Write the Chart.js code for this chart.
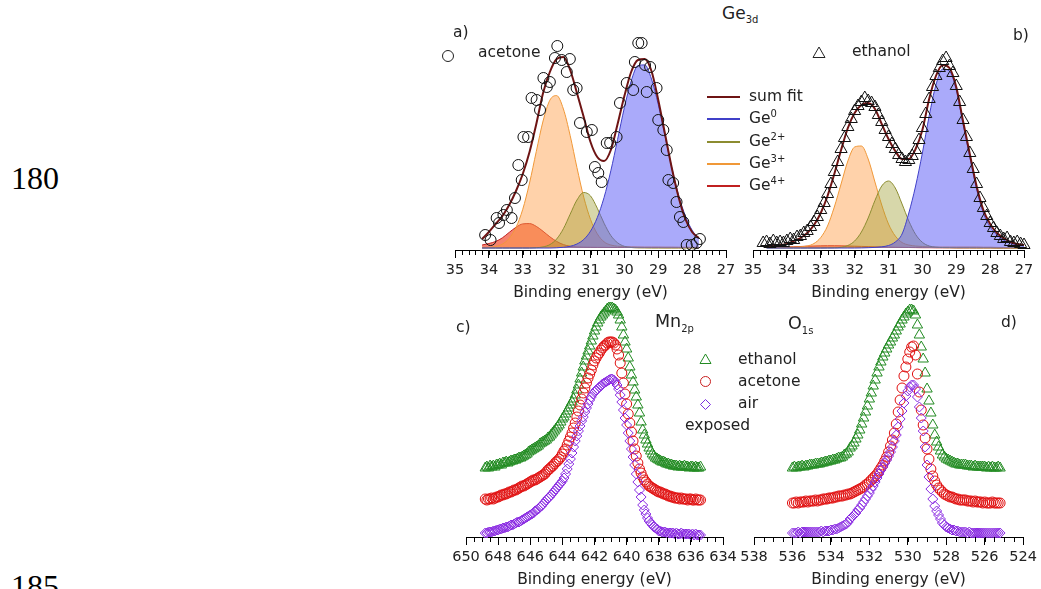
<!DOCTYPE html>
<html>
<head>
<meta charset="utf-8">
<script src="https://cdn.jsdelivr.net/npm/chart.js@4.4.0/dist/chart.umd.min.js"></script>
<style>
html, body { margin: 0; padding: 0; overflow: hidden; background: #fff; }
body { position: relative; width: 1041px; height: 589px; font-family: "DejaVu Sans", sans-serif; color: #222; }
canvas { position: absolute; }
.t { position: absolute; font-size: 15.5px; line-height: 15px; white-space: nowrap; }
.t sup, .t sub { font-size: 10px; line-height: 0; }
.big { position: absolute; font-family: "Liberation Serif", serif; font-size: 32px; line-height: 32px; color: #000; }
.lg { position: absolute; left: 707px; width: 33px; }
</style>
</head>
<body>
<canvas id="geA" width="311" height="280" style="left:435px;top:30px"></canvas>
<canvas id="geB" width="305" height="280" style="left:733px;top:30px"></canvas>
<canvas id="mnC" width="297" height="307" style="left:446px;top:290px"></canvas>
<canvas id="oD" width="307" height="307" style="left:734px;top:290px"></canvas>

<div class="big" style="left:11px;top:162px">180</div>
<div class="big" style="left:11px;top:570px">185</div>

<div class="t" style="left:722px;top:6px;font-size:17px">Ge<sub>3d</sub></div>
<div class="t" style="left:453px;top:25px">a)</div>
<div class="t" style="left:1013px;top:28px">b)</div>
<div style="position:absolute;left:442px;top:50px;width:10px;height:10px;border:1px solid #222;border-radius:50%"></div>
<div class="t" style="left:478px;top:45px">acetone</div>
<svg style="position:absolute;left:812px;top:46px" width="14" height="13"><polygon points="7,1 13,11.5 1,11.5" fill="none" stroke="#222" stroke-width="1"/></svg>
<div class="t" style="left:852px;top:44px">ethanol</div>

<div class="lg" style="top:96px;height:2px;background:#6e1414"></div>
<div class="lg" style="top:118px;height:1.5px;background:#4040c8"></div>
<div class="lg" style="top:141px;height:1.5px;background:#8c8c30"></div>
<div class="lg" style="top:163px;height:1.5px;background:#f09838"></div>
<div class="lg" style="top:185px;height:1.5px;background:#c02020"></div>
<div class="t" style="left:749px;top:89px">sum fit</div>
<div class="t" style="left:749px;top:111px">Ge<sup>0</sup></div>
<div class="t" style="left:749px;top:134px">Ge<sup>2+</sup></div>
<div class="t" style="left:749px;top:156px">Ge<sup>3+</sup></div>
<div class="t" style="left:749px;top:178px">Ge<sup>4+</sup></div>

<div class="t" style="left:456px;top:320px">c)</div>
<div class="t" style="left:655px;top:314px;font-size:17.5px">Mn<sub>2p</sub></div>
<div class="t" style="left:788px;top:316px;font-size:17.5px">O<sub>1s</sub></div>
<div class="t" style="left:1001px;top:315px">d)</div>
<svg style="position:absolute;left:699px;top:353px" width="13" height="12"><polygon points="6.5,1 12,10.5 1,10.5" fill="none" stroke="#228b22" stroke-width="1"/></svg>
<div style="position:absolute;left:700px;top:376px;width:9px;height:9px;border:1px solid #c81e1e;border-radius:50%"></div>
<svg style="position:absolute;left:699px;top:398px" width="13" height="13"><polygon points="6.5,1.5 11.5,6.5 6.5,11.5 1.5,6.5" fill="none" stroke="#7b2be0" stroke-width="1"/></svg>
<div class="t" style="left:738px;top:352px">ethanol</div>
<div class="t" style="left:738px;top:374px">acetone</div>
<div class="t" style="left:738px;top:396px">air</div>
<div class="t" style="left:685px;top:418px">exposed</div>

<script>
// Ge 3d, panel a (acetone)
const geEnergyA = [34.2, 34.0, 33.8, 33.6, 33.4, 33.2, 33.0, 32.8, 32.6, 32.4, 32.2, 32.0, 31.8, 31.6, 31.4, 31.2, 31.0,
    30.8, 30.6, 30.4, 30.2, 30.0, 29.8, 29.6, 29.4, 29.2, 29.0, 28.8, 28.6, 28.4, 28.2, 28.0, 27.8];
const geSumA = [9, 16, 24, 32, 43, 57, 74, 96, 124, 155, 176, 189, 191, 178, 155, 131, 106,
    91, 87, 98, 124, 152, 176, 188, 189, 177, 148, 114, 80, 51, 29, 16, 10];
const ge0A = [0, 0, 0, 0, 0, 0, 0, 0, 0, 0, 0, 0.2, 0.7, 1.7, 4, 8.5, 16.8,
    30.4, 50.5, 77.2, 108.6, 140.4, 166.9, 182.4, 183.1, 169, 143.5, 111.9, 80.2, 52.9, 32.1, 17.8, 9.1];
const ge2A = [0, 0, 0, 0, 0, 0, 0, 0, 0.3, 1.1, 3.4, 9, 19.3, 33.8, 48, 55.5, 52.1,
    39.8, 24.8, 12.5, 5.2, 1.7, 0.5, 0.2, 0.1, 0, 0, 0, 0, 0, 0, 0, 0];
const ge3A = [0.3, 0.5, 1.5, 3.9, 9.6, 20.5, 38.7, 65, 96.6, 127, 147.8, 152.4, 139, 112.4, 80.4, 50.9, 28.6,
    14.2, 6.2, 3, 1.8, 1.4, 1.2, 1.1, 1, 1, 1, 0.9, 0.9, 0.8, 0.8, 0.7, 0.7];
const ge4A = [3, 4.5, 6.5, 10.2, 15.6, 20.7, 24.1, 24.4, 21.6, 16.7, 11.2, 6.6, 3.4, 1.8, 1, 0.8, 0.7,
    0.6, 0.6, 0.5, 0.5, 0.5, 0.5, 0.4, 0.4, 0.4, 0.4, 0.3, 0.3, 0.3, 0.3, 0.3, 0.3];
const acetoneGeE = [34.11, 33.95, 33.77, 33.70, 33.57, 33.47, 33.33, 33.23, 33.13, 33.03, 32.98, 32.84, 32.74, 32.59,
    32.49, 32.39, 32.29, 32.20, 32.05, 31.98, 31.85, 31.70, 31.61, 31.51, 31.41, 31.31, 31.11, 30.96, 30.87, 30.77,
    30.67, 30.52, 30.42, 30.23, 30.13, 29.93, 29.74, 29.69, 29.59, 29.49, 29.39, 29.34, 29.24, 29.05, 29.00, 28.85,
    28.75, 28.70, 28.56, 28.46, 28.36, 28.26, 28.16, 28.01, 27.87, 27.77];
const acetoneGeI = [13, 8, 30, 25, 33, 38, 30, 50, 83, 68, 111, 111, 150, 148,
    138, 170, 161, 166, 190, 202, 188, 176, 189, 158, 160, 125, 116, 118, 81, 75,
    66, 105, 105, 111, 145, 165, 158, 186, 205, 205, 183, 156, 181, 160, 128, 118,
    98, 68, 65, 46, 31, 26, 3, 3, 5, 9];

// Ge 3d, panel b (ethanol)
const geEnergyB = [34.6, 34.4, 34.2, 34.0, 33.8, 33.6, 33.4, 33.2, 33.0, 32.8, 32.6, 32.4, 32.2, 32.0, 31.8, 31.6, 31.4,
    31.2, 31.0, 30.8, 30.6, 30.4, 30.2, 30.0, 29.8, 29.6, 29.4, 29.2, 29.0, 28.8, 28.6, 28.4, 28.2, 28.0, 27.8,
    27.6, 27.4, 27.2, 27.0];
const geSumB = [1, 2, 3, 4, 7, 10, 15, 23, 35, 52, 74, 98, 120, 135, 143, 145, 139,
    124, 109, 97, 89, 89, 99, 118, 149, 172, 183, 180, 161, 127, 94, 62, 38, 24, 15,
    10, 6, 4, 3];
const ge0B = [0, 0, 0, 0, 0, 0, 0, 0, 0, 0, 0, 0, 0, 0, 0.1, 0.3, 0.6,
    1.2, 2.5, 6, 14, 35, 62, 95, 132, 163, 179, 177, 158, 124, 91, 59, 35, 21, 13,
    8, 5, 3, 2];
const ge2B = [0, 0, 0, 0, 0, 0, 0, 0, 0, 0.1, 0.2, 0.7, 2.5, 7, 16, 30, 47.5,
    62, 67, 60, 44, 27, 13.6, 5.7, 2, 0.8, 0.4, 0.3, 0.2, 0.2, 0.2, 0.1, 0.1, 0.1, 0,
    0, 0, 0, 0];
const ge3B = [1, 1, 1, 1, 1, 1.2, 2, 4.5, 10.5, 22, 41, 64, 87, 101, 102, 89, 66,
    43, 24, 12, 5.5, 3, 2, 1.5, 1.2, 1, 1, 1, 1, 1, 1, 1, 0.8, 0.8, 0.6,
    0.5, 0.5, 0.4, 0.4];
const ge4B = [0.5, 0.6, 0.8, 1, 1.2, 1.5, 1.8, 2, 2.2, 2.3, 2.3, 2.2, 2, 1.8, 1.6, 1.4, 1.2,
    1, 0.8, 0.7, 0.6, 0.5, 0.4, 0.3, 0.3, 0.2, 0.2, 0.2, 0.1, 0.1, 0.1, 0.1, 0.1, 0.1, 0,
    0, 0, 0, 0];
const ethanolGeE = [34.7, 34.6, 34.5, 34.4, 34.3, 34.2, 34.1, 34.0, 33.9, 33.8, 33.7, 33.6, 33.5, 33.4, 33.3, 33.2,
    33.1, 33.0, 32.9, 32.8, 32.7, 32.6, 32.5, 32.4, 32.3, 32.2, 32.1, 32.0, 31.9, 31.8, 31.7, 31.6, 31.5, 31.4,
    31.3, 31.2, 31.1, 31.0, 30.9, 30.8, 30.7, 30.6, 30.5, 30.4, 30.3, 30.2, 30.1, 30.0, 29.9, 29.8, 29.7, 29.6,
    29.5, 29.4, 29.3, 29.2, 29.1, 29.0, 28.9, 28.8, 28.7, 28.6, 28.5, 28.4, 28.3, 28.2, 28.1, 28.0, 27.9, 27.8,
    27.7, 27.6, 27.5, 27.4, 27.3, 27.2, 27.1, 27.0];
const ethanolGeI = [5, 6, 4, 7, 5, 6, 5, 7, 9, 8, 11, 12, 15, 17, 21, 26,
    31, 38, 45, 54, 64, 76, 86, 99, 110, 121, 129, 137, 142, 146, 150, 147, 145, 141,
    133, 126, 118, 111, 104, 99, 93, 89, 86, 88, 92, 98, 108, 120, 134, 149, 161, 172,
    180, 187, 190, 182, 175, 162, 146, 128, 111, 95, 79, 64, 50, 40, 32, 25, 20, 15,
    12, 9, 10, 6, 5, 6, 4, 3];

// Mn 2p, panel c (one row = 1 eV)
const mnEnergy = [
    648.8, 648.7, 648.6, 648.5, 648.4, 648.3, 648.2, 648.1, 648.0, 647.9,
    647.8, 647.7, 647.6, 647.5, 647.4, 647.3, 647.2, 647.1, 647.0, 646.9,
    646.8, 646.7, 646.6, 646.5, 646.4, 646.3, 646.2, 646.1, 646.0, 645.9,
    645.8, 645.7, 645.6, 645.5, 645.4, 645.3, 645.2, 645.1, 645.0, 644.9,
    644.8, 644.7, 644.6, 644.5, 644.4, 644.3, 644.2, 644.1, 644.0, 643.9,
    643.8, 643.7, 643.6, 643.5, 643.4, 643.3, 643.2, 643.1, 643.0, 642.9,
    642.8, 642.7, 642.6, 642.5, 642.4, 642.3, 642.2, 642.1, 642.0, 641.9,
    641.8, 641.7, 641.6, 641.5, 641.4, 641.3, 641.2, 641.1, 641.0, 640.9,
    640.8, 640.7, 640.6, 640.5, 640.4, 640.3, 640.2, 640.1, 640.0, 639.9,
    639.8, 639.7, 639.6, 639.5, 639.4, 639.3, 639.2, 639.1, 639.0, 638.9,
    638.8, 638.7, 638.6, 638.5, 638.4, 638.3, 638.2, 638.1, 638.0, 637.9,
    637.8, 637.7, 637.6, 637.5, 637.4, 637.3, 637.2, 637.1, 637.0, 636.9,
    636.8, 636.7, 636.6, 636.5, 636.4, 636.3, 636.2, 636.1, 636.0, 635.9,
    635.8, 635.7, 635.6, 635.5, 635.4];
const mnEthanol = [
    69, 70, 69, 71, 70, 71, 70, 72, 72, 73,
    72, 74, 74, 75, 74, 75, 76, 76, 77, 77,
    78, 79, 79, 80, 81, 82, 83, 85, 86, 87,
    88, 89, 90, 91, 93, 94, 95, 96, 97, 99,
    100, 102, 104, 106, 108, 110, 112, 115, 118, 120,
    123, 126, 129, 132, 135, 138, 142, 147, 152, 158,
    164, 170, 176, 181, 186, 191, 196, 201, 206, 210,
    214, 217, 220, 222, 224, 226, 228, 229, 229, 229,
    228, 227, 225, 222, 217, 210, 202, 195, 188, 179,
    170, 162, 155, 147, 140, 132, 124, 115, 107, 102,
    97, 93, 89, 86, 83, 81, 79, 78, 77, 76,
    75, 75, 74, 73, 73, 72, 72, 71, 71, 71,
    70, 71, 70, 70, 71, 70, 70, 69, 70, 70,
    69, 70, 69, 69, 70];
const mnAcetone = [
    38, 37, 38, 38, 39, 38, 39, 40, 40, 41,
    42, 42, 43, 43, 44, 45, 45, 46, 47, 47,
    48, 49, 50, 51, 51, 52, 53, 54, 55, 56,
    57, 57, 58, 59, 60, 61, 62, 63, 65, 67,
    68, 70, 71, 73, 75, 76, 78, 80, 83, 86,
    88, 92, 96, 100, 104, 109, 114, 120, 126, 132,
    138, 144, 149, 154, 159, 163, 167, 172, 176, 179,
    182, 184, 187, 189, 191, 192, 194, 195, 195, 195,
    194, 192, 188, 182, 174, 164, 154, 143, 133, 123,
    114, 105, 96, 88, 81, 74, 68, 64, 60, 57,
    55, 53, 51, 50, 49, 48, 47, 46, 45, 45,
    44, 43, 43, 42, 41, 41, 40, 40, 39, 39,
    39, 38, 39, 38, 38, 38, 37, 38, 38, 37,
    37, 38, 37, 37, 37];
const mnAir = [
    4, 4, 5, 5, 5, 6, 6, 7, 7, 8,
    8, 9, 9, 10, 10, 11, 12, 12, 13, 14,
    15, 15, 16, 17, 18, 19, 20, 21, 22, 23,
    24, 26, 27, 28, 30, 31, 33, 35, 37, 39,
    40, 42, 44, 46, 48, 50, 52, 54, 56, 59,
    63, 68, 73, 78, 84, 90, 96, 101, 106, 111,
    116, 120, 125, 129, 133, 137, 140, 143, 145, 147,
    148, 150, 151, 153, 154, 155, 156, 157, 158, 158,
    157, 155, 152, 148, 142, 135, 127, 119, 112, 104,
    96, 88, 80, 72, 63, 55, 47, 40, 32, 27,
    23, 19, 16, 14, 12, 10, 9, 8, 6, 6,
    5, 5, 5, 4, 4, 4, 4, 4, 3, 4,
    3, 3, 4, 3, 3, 3, 3, 3, 2, 3,
    2, 3, 2, 2, 2];

// O 1s, panel d (one row = 1 eV)
const oEnergy = [
    536.0, 535.9, 535.8, 535.7, 535.6, 535.5, 535.4, 535.3, 535.2, 535.1,
    535.0, 534.9, 534.8, 534.7, 534.6, 534.5, 534.4, 534.3, 534.2, 534.1,
    534.0, 533.9, 533.8, 533.7, 533.6, 533.5, 533.4, 533.3, 533.2, 533.1,
    533.0, 532.9, 532.8, 532.7, 532.6, 532.5, 532.4, 532.3, 532.2, 532.1,
    532.0, 531.9, 531.8, 531.7, 531.6, 531.5, 531.4, 531.3, 531.2, 531.1,
    531.0, 530.9, 530.8, 530.7, 530.6, 530.5, 530.4, 530.3, 530.2, 530.1,
    530.0, 529.9, 529.8, 529.7, 529.6, 529.5, 529.4, 529.3, 529.2, 529.1,
    529.0, 528.9, 528.8, 528.7, 528.6, 528.5, 528.4, 528.3, 528.2, 528.1,
    528.0, 527.9, 527.8, 527.7, 527.6, 527.5, 527.4, 527.3, 527.2, 527.1,
    527.0, 526.9, 526.8, 526.7, 526.6, 526.5, 526.4, 526.3, 526.2, 526.1,
    526.0, 525.9, 525.8, 525.7, 525.6, 525.5, 525.4, 525.3, 525.2];
const oEthanol = [
    69, 70, 69, 70, 70, 71, 70, 71, 71, 72,
    72, 72, 73, 73, 73, 74, 74, 75, 75, 76,
    76, 77, 77, 78, 79, 79, 80, 82, 83, 85,
    89, 91, 94, 98, 102, 107, 113, 119, 125, 131,
    138, 144, 151, 157, 164, 170, 175, 180, 184, 188,
    192, 195, 199, 202, 206, 210, 213, 217, 220, 223,
    225, 227, 227, 226, 222, 212, 202, 190, 178, 164,
    148, 136, 124, 112, 102, 95, 90, 86, 82, 80,
    78, 77, 76, 75, 74, 73, 73, 72, 72, 72,
    72, 71, 71, 71, 70, 71, 70, 70, 70, 70,
    70, 69, 70, 69, 70, 69, 69, 70, 69];
const oAcetone = [
    34, 34, 35, 34, 35, 35, 35, 36, 35, 36,
    36, 36, 37, 36, 37, 37, 38, 38, 38, 39,
    39, 39, 40, 40, 41, 41, 41, 42, 42, 43,
    43, 44, 45, 46, 47, 48, 49, 50, 52, 53,
    55, 57, 59, 61, 63, 66, 69, 72, 76, 80,
    85, 91, 97, 104, 113, 125, 137, 149, 161, 170,
    178, 185, 190, 191, 182, 163, 145, 127, 112, 99,
    88, 78, 68, 61, 56, 52, 49, 47, 45, 43,
    42, 41, 40, 40, 39, 38, 38, 37, 37, 37,
    37, 36, 36, 36, 35, 36, 35, 35, 35, 34,
    35, 34, 34, 34, 35, 34, 34, 34, 34];
const oAir = [
    4, 4, 4, 5, 4, 5, 5, 5, 5, 5,
    5, 5, 5, 5, 5, 6, 5, 6, 6, 6,
    7, 7, 8, 8, 9, 10, 11, 12, 13, 15,
    18, 20, 22, 24, 27, 29, 32, 35, 38, 41,
    44, 48, 51, 55, 59, 63, 67, 70, 74, 77,
    81, 85, 90, 96, 102, 110, 118, 126, 134, 141,
    146, 150, 152, 152, 148, 140, 130, 119, 106, 90,
    72, 60, 48, 38, 31, 26, 22, 18, 14, 12,
    10, 9, 8, 7, 7, 6, 6, 5, 5, 5,
    5, 4, 5, 4, 4, 4, 4, 4, 4, 4,
    4, 4, 4, 4, 4, 4, 4, 4, 4];

function pts(xs, ys) {
    return xs.map(function(x, i) { return { x: x, y: ys[i] }; });
}

function fitSet(xs, ys, line, fillCol, width, order) {
    return {
        data: pts(xs, ys),
        borderColor: line,
        backgroundColor: fillCol || 'rgba(0,0,0,0)',
        fill: fillCol ? 'origin' : false,
        borderWidth: width,
        pointRadius: 0,
        cubicInterpolationMode: 'monotone',
        order: order,
        clip: false
    };
}

function markSet(xs, ys, style, col, r, order) {
    return {
        data: pts(xs, ys),
        showLine: false,
        pointStyle: style,
        pointRadius: r,
        borderColor: col,
        backgroundColor: 'rgba(0,0,0,0)',
        pointBorderWidth: 1,
        order: order,
        clip: false
    };
}

// short minor ticks under the axis line
var minorTicks = {
    id: 'minorTicks',
    afterDraw: function(chart, args, opts) {
        var sc = chart.scales.x;
        var ctx = chart.ctx;
        var n = Math.round((sc.max - sc.min) / opts.step);
        ctx.save();
        ctx.strokeStyle = '#000';
        ctx.lineWidth = 1;
        ctx.beginPath();
        for (var i = 0; i <= n; i++) {
            var px = Math.round(sc.getPixelForValue(sc.min + i * opts.step)) + 0.5;
            ctx.moveTo(px, sc.top);
            ctx.lineTo(px, sc.top + 5);
        }
        ctx.stroke();
        ctx.restore();
    }
};

function makeChart(id, datasets, xmin, xmax, step, minor, ymin, ymax, padRight) {
    return new Chart(document.getElementById(id).getContext('2d'), {
        type: 'line',
        data: { datasets: datasets },
        plugins: [minorTicks],
        options: {
            responsive: false,
            animation: false,
            layout: { padding: { left: 20, right: padRight, top: 10, bottom: 0 } },
            plugins: {
                legend: { display: false },
                tooltip: { enabled: false },
                minorTicks: { step: minor }
            },
            scales: {
                x: {
                    type: 'linear',
                    reverse: true,
                    min: xmin,
                    max: xmax,
                    ticks: {
                        stepSize: step,
                        color: '#222',
                        font: { family: 'DejaVu Sans', size: 14.5 },
                        padding: 4,
                        maxRotation: 0,
                        autoSkip: false
                    },
                    grid: { drawOnChartArea: false, tickLength: 8, tickColor: '#000' },
                    border: { display: true, color: '#000', width: 1 },
                    title: {
                        display: true,
                        text: 'Binding energy (eV)',
                        color: '#222',
                        font: { family: 'DejaVu Sans', size: 15.5 },
                        padding: { top: 0, bottom: 8 }
                    },
                    afterFit: function(scale) { scale.height = 60; }
                },
                y: { display: false, min: ymin, max: ymax }
            }
        }
    });
}

document.addEventListener("DOMContentLoaded", function() {
    makeChart('geA', [
        markSet(acetoneGeE, acetoneGeI, 'circle', '#111', 5.5, 0),
        fitSet(geEnergyA, geSumA, '#6e1414', null, 2, 1),
        fitSet(geEnergyA, ge0A, '#4040c8', 'rgba(85,85,245,0.5)', 1, 2),
        fitSet(geEnergyA, ge2A, '#8c8c30', 'rgba(155,155,42,0.4)', 1, 3),
        fitSet(geEnergyA, ge3A, '#f09838', 'rgba(255,155,67,0.45)', 1, 4),
        fitSet(geEnergyA, ge4A, '#c02020', 'rgba(238,47,13,0.6)', 1, 5)
    ], 27, 35, 1, 0.2, -2, 208, 20);

    makeChart('geB', [
        markSet(ethanolGeE, ethanolGeI, 'triangle', '#111', 7, 0),
        fitSet(geEnergyB, geSumB, '#6e1414', null, 2, 1),
        fitSet(geEnergyB, ge0B, '#4040c8', 'rgba(85,85,245,0.5)', 1, 2),
        fitSet(geEnergyB, ge2B, '#8c8c30', 'rgba(155,155,42,0.4)', 1, 3),
        fitSet(geEnergyB, ge3B, '#f09838', 'rgba(255,155,67,0.45)', 1, 4),
        fitSet(geEnergyB, ge4B, '#c02020', 'rgba(238,47,13,0.6)', 1, 5)
    ], 27, 35, 1, 0.2, -2, 208, 14);

    makeChart('mnC', [
        markSet(mnEnergy, mnAir, 'rectRot', '#8a2be2', 5, 0),
        markSet(mnEnergy, mnAcetone, 'circle', '#e01010', 5, 1),
        markSet(mnEnergy, mnEthanol, 'triangle', '#228b22', 6, 2)
    ], 634, 650, 2, 0.5, 0, 237, 20);

    makeChart('oD', [
        markSet(oEnergy, oAir, 'rectRot', '#8a2be2', 5, 0),
        markSet(oEnergy, oAcetone, 'circle', '#e01010', 5, 1),
        markSet(oEnergy, oEthanol, 'triangle', '#228b22', 6, 2)
    ], 524, 538, 2, 0.5, 0, 237, 14);
});
</script>
</body>
</html>
